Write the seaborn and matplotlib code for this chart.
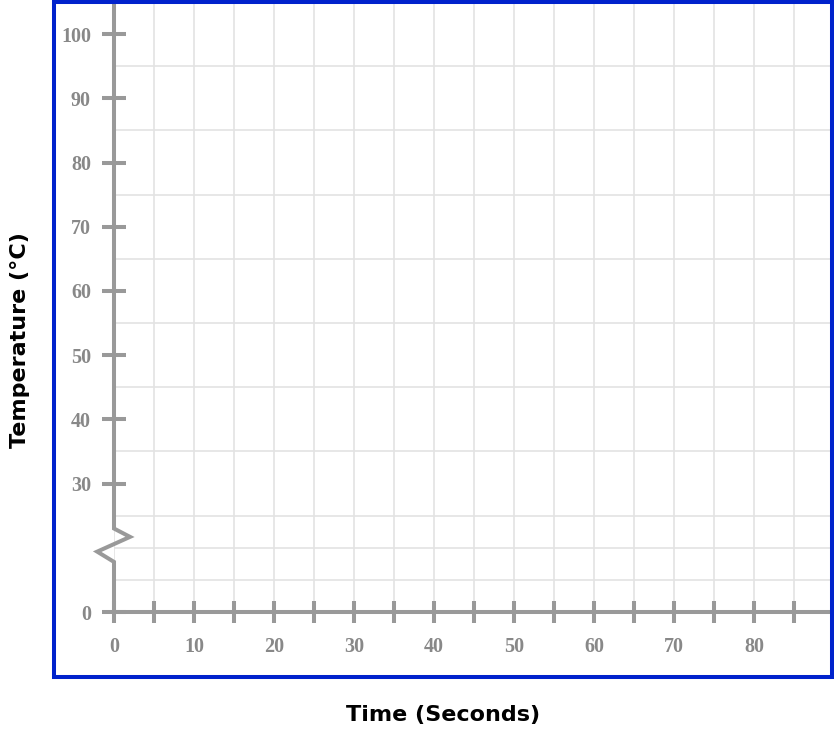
import matplotlib
matplotlib.use("Agg")
import matplotlib.pyplot as plt
from matplotlib.patches import Rectangle
from matplotlib.ticker import FixedLocator
import pandas as pd
import seaborn as sns

# axis ranges (y is drawn with a break: the "0" tick sits where 10 would be)
x_max = 89.75
y_low, y_high = 10, 105

x_major = [0, 10, 20, 30, 40, 50, 60, 70, 80]
x_minor = [5, 15, 25, 35, 45, 55, 65, 75, 85]
y_major = [10, 30, 40, 50, 60, 70, 80, 90, 100]
y_labels = ["0", "30", "40", "50", "60", "70", "80", "90", "100"]
y_grid = [15, 20, 25, 30, 35, 40, 45, 50, 55, 60, 65, 70, 75, 80, 85, 90, 95, 100, 105]

# y axis path with the zigzag break
axis_x = [0, 0, 2.0, -2.1, 0, 0]
axis_y = [105, 23.0, 21.7, 19.4, 17.8, 10]

grey = "#999999"
label_grey = "#888888"
grid_grey = "#e3e3e3"
blue = "#0022cc"

sns.set_theme(style="white")
plt.rcParams["font.family"] = ["DejaVu Sans"]

fig = plt.figure(figsize=(8.34, 7.32), dpi=100)
ax = fig.add_axes([114 / 834, (732 - 612) / 732, 718 / 834, 610 / 732])
ax.set_xlim(0, x_max)
ax.set_ylim(y_low, y_high)

ax.xaxis.set_major_locator(FixedLocator(x_major))
ax.xaxis.set_minor_locator(FixedLocator(x_minor))
ax.yaxis.set_major_locator(FixedLocator(y_major))
ax.yaxis.set_minor_locator(FixedLocator(y_grid))
ax.set_yticklabels(y_labels)
ax.set_xticklabels([str(v) for v in x_major])

ax.grid(False)
ax.grid(True, axis="x", which="both", color=grid_grey, lw=1.2, zorder=0)
ax.grid(True, axis="y", which="minor", color=grid_grey, lw=1.2, zorder=0)
ax.set_axisbelow(True)

ax.tick_params(axis="x", which="both", direction="inout", length=16.5, width=2.9,
               color=grey, bottom=True)
ax.tick_params(axis="x", which="major", pad=10)
ax.tick_params(axis="y", which="major", direction="inout", length=17.3, width=2.9,
               color=grey, left=True, pad=8)
ax.tick_params(axis="y", which="minor", length=0)

for lab in ax.get_xticklabels() + ax.get_yticklabels():
    lab.set_family("Liberation Serif")
    lab.set_fontweight("bold")
    lab.set_fontsize(14.5)
    lab.set_color(label_grey)

for side in ["top", "right", "left"]:
    ax.spines[side].set_visible(False)
ax.spines["bottom"].set_color(grey)
ax.spines["bottom"].set_linewidth(2.9)
ax.spines["bottom"].set_zorder(3)

axis_df = pd.DataFrame({"x": axis_x, "y": axis_y})
sns.lineplot(data=axis_df, x="x", y="y", sort=False, estimator=None, ax=ax,
             color=grey, lw=2.9, clip_on=False, zorder=4,
             solid_joinstyle="miter", solid_capstyle="butt")
ax.set_xlabel("")
ax.set_ylabel("")

fig.text(443 / 834, 1 - 715 / 732, "Time (Seconds)", ha="center", va="center",
         fontsize=16, fontweight="bold", color="black")
fig.text(20 / 834, 1 - 340 / 732, "Temperature (°C)", ha="center", va="center",
         rotation=90, fontsize=16, fontweight="bold", color="black")

border = Rectangle((54 / 834, 1 - 677 / 732), 778 / 834, 675 / 732,
                   transform=fig.transFigure, fill=False, edgecolor=blue,
                   lw=2.9, zorder=10)
fig.patches.append(border)

fig.savefig("out.png", dpi=100)
